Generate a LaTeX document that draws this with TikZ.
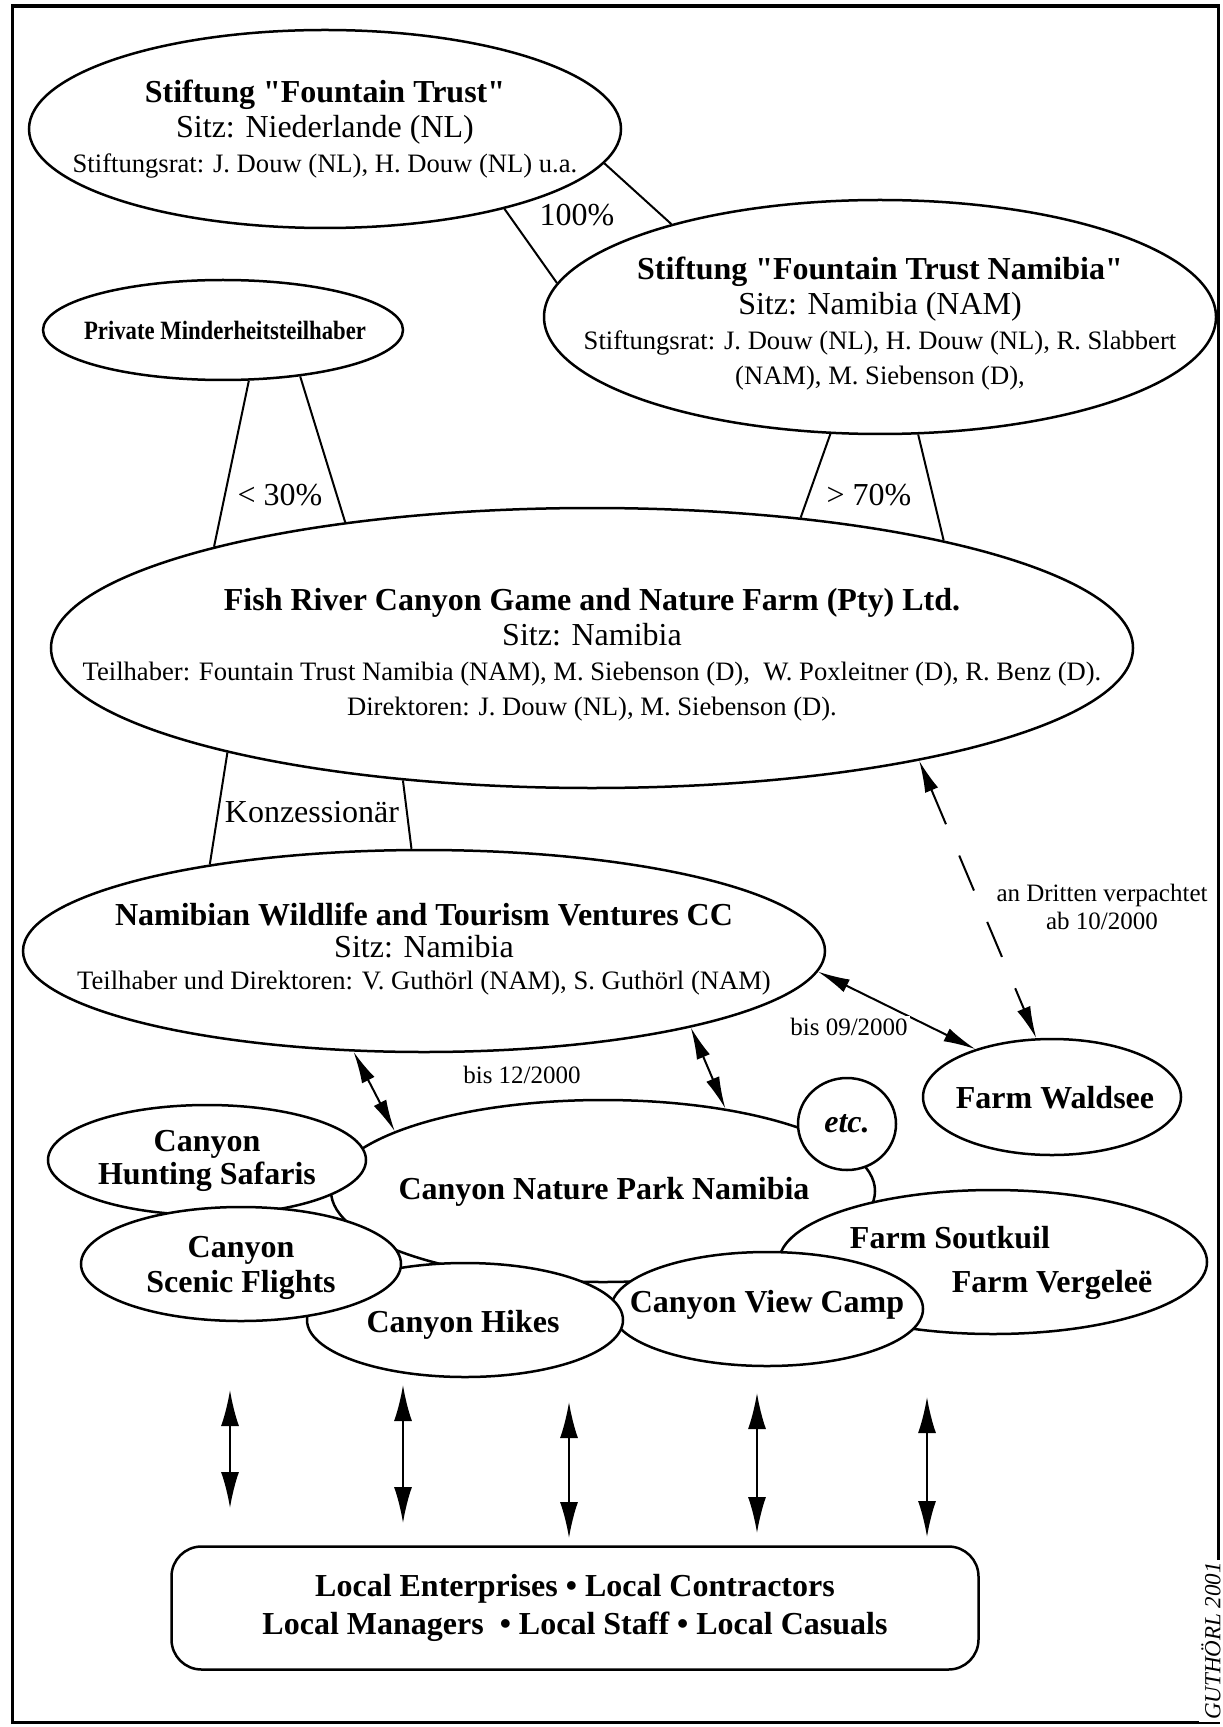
\documentclass[tikz,border=0pt]{standalone}
\usepackage{fontspec}
\setmainfont{Liberation Serif}[Ligatures=TeXOff]
\usetikzlibrary{shapes.geometric,arrows.meta}
\newcommand\ftit{\fontsize{16}{17.5}\selectfont\bfseries}
\newcommand\fsub{\fontsize{16}{17.5}\selectfont}
\newcommand\fsml{\fontsize{13.3}{17.5}\selectfont}
\newcommand\flab{\fontsize{12.5}{14}\selectfont}
\begin{document}
\begin{tikzpicture}[x=0.5pt,y=-0.5pt,
  ell/.style={draw,ellipse,line width=1.25pt,inner sep=0pt,fill=white},
  txt/.style={inner sep=0pt,align=center,font=\fsub},
  btxt/.style={inner sep=0pt,align=center,font=\ftit},
  conn/.style={line width=1pt},
  dbl/.style={line width=1pt,{Latex[length=16pt,width=7pt]}-{Latex[length=16pt,width=7pt]}},
  vdbl/.style={line width=1pt,{Latex[length=18pt,width=9pt]}-{Latex[length=18pt,width=9pt]}},
  lab/.style={inner sep=1pt,font=\flab,align=center},
  clab/.style={inner sep=1pt,font=\fsub}
]
\useasboundingbox (0,0) rectangle (1222,1727);
% frame
\draw[line width=1.5pt] (12,6) rectangle (1218,1722);
\draw[line width=2.2pt] (12,6) -- (1218,6);

% top ellipses
\node[ell,minimum width=296pt,minimum height=99pt] (A) at (325,129) {};
\node[txt] (At) at (325,129) {{\ftit Stiftung "Fountain Trust"}\\Sitz: Niederlande (NL)\\{\fsml Stiftungsrat: J. Douw (NL), H. Douw (NL) u.a.}};

\node[ell,minimum width=336pt,minimum height=117pt] (B) at (880,317) {};
\node[txt] (Bt) at (880,324) {{\ftit Stiftung "Fountain Trust Namibia"}\\Sitz: Namibia (NAM)\\{\fsml Stiftungsrat: J. Douw (NL), H. Douw (NL), R. Slabbert}\\{\fsml (NAM), M. Siebenson (D),}};

\node[ell,minimum width=180pt,minimum height=50pt] (C) at (223,330) {};
\node[btxt] (Ct) at (225,330) {\scalebox{0.86}[1]{\fontsize{13.2}{16}\selectfont\bfseries Private Minderheitsteilhaber}};

\node[ell,minimum width=541pt,minimum height=140pt] (D) at (592,648) {};
\node[txt] (Dt) at (592,655) {{\ftit Fish River Canyon Game and Nature Farm (Pty) Ltd.}\\Sitz: Namibia\\{\fsml Teilhaber: Fountain Trust Namibia (NAM), M. Siebenson (D), \ W. Poxleitner (D), R. Benz (D).}\\{\fsml Direktoren: J. Douw (NL), M. Siebenson (D).}};

\node[ell,minimum width=401pt,minimum height=101pt] (E) at (424,951) {};
\node[txt,font=\fontsize{16}{16}\selectfont] (Et) at (424,949) {{\bfseries Namibian Wildlife and Tourism Ventures CC}\\Sitz: Namibia\\{\fontsize{13.3}{16}\selectfont Teilhaber und Direktoren: V. Guthörl (NAM), S. Guthörl (NAM)}};

\node[ell,minimum width=129pt,minimum height=58pt] (W) at (1052,1097) {};
\node[btxt] (Wt) at (1055,1098) {Farm Waldsee};

% cluster
\node[ell,minimum width=272pt,minimum height=91pt] (CNP) at (603,1191) {};
\node[btxt] (CNPt) at (604,1192) {Canyon Nature Park Namibia};
\node[ell,minimum width=49pt,minimum height=46pt] (ETC) at (847,1124) {};
\node[btxt] (ETCt) at (847,1124) {\itshape etc.};
\node[ell,minimum width=214pt,minimum height=72pt] (FS) at (993,1262) {};
\node[btxt] (FSt1) at (950,1238) {Farm Soutkuil};
\node[btxt] (FSt2) at (1052,1285) {Farm Vergeleë};
\node[ell,minimum width=156pt,minimum height=57pt] (VC) at (767,1309) {};
\node[btxt] (VCt) at (767,1305) {Canyon View Camp};
\node[ell,minimum width=158pt,minimum height=57pt] (HK) at (465,1320) {};
\node[btxt] (HKt) at (463,1325) {Canyon Hikes};
\node[ell,minimum width=159pt,minimum height=55pt] (HS) at (207,1160) {};
\node[btxt,font=\fontsize{16}{16.5}\selectfont\bfseries] (HSt) at (207,1161) {Canyon\\Hunting Safaris};
\node[ell,minimum width=160pt,minimum height=57pt] (SF) at (241,1264) {};
\node[btxt,font=\fontsize{16}{17.5}\selectfont\bfseries] (SFt) at (241,1268) {Canyon\\Scenic Flights};

% ownership connectors
\draw[conn] (A.-24.3) -- (B.174.8);
\draw[conn] (A.-7.8) -- (B.156.8);
\node[clab] (l100) at (577,215) {100\%};

\draw[conn] (B.-113.7) -- (D.32.3);
\draw[conn] (B.-72) -- (D.17.5);
\node[clab] (l70) at (869,495) {> 70\%};

\draw[conn] (C.-63.2) -- (D.165.5);
\draw[conn] (C.-31.2) -- (D.153.9);
\node[clab] (l30) at (280,495) {< 30\%};

\draw[conn] (D.-164.3) -- (E.158.4);
\draw[conn] (D.-145.8) -- (E.97.9);
\node[clab] (lk) at (312,812) {Konzessionär};

% arrows
\draw[dbl] (E.-125.9) -- (CNP.164.3);
\draw[dbl] (E.-16.2) -- (CNP.34.5);
\node[lab] (l12) at (522,1075) {bis 12/2000};

\draw[dbl] (E.-3) -- (W.148.9);
\node[lab,fill=white] (l09) at (849,1027) {bis 09/2000};

\draw[dbl,dash pattern=on 19pt off 17pt] (D.-19.5) -- (W.105.7);
\node[lab] (l10) at (1102,907) {an Dritten verpachtet\\ab 10/2000};

% local box
\node[draw,rounded corners=15pt,line width=1.25pt,minimum width=403.5pt,minimum height=61.5pt,align=center,font=\fontsize{16}{19}\selectfont\bfseries] (LB) at (575,1608) {Local Enterprises • Local Contractors\\Local Managers \ • Local Staff • Local Casuals};

\coordinate (v1t) at (230,1390); \coordinate (v1b) at (230,1508);
\coordinate (v2t) at (403,1385); \coordinate (v2b) at (403,1523);
\coordinate (v3t) at (569,1402); \coordinate (v3b) at (569,1538);
\coordinate (v4t) at (757,1393); \coordinate (v4b) at (757,1533);
\coordinate (v5t) at (927,1397); \coordinate (v5b) at (927,1537);
\draw[vdbl] (v1t) -- (v1b);
\draw[vdbl] (v2t) -- (v2b);
\draw[vdbl] (v3t) -- (v3b);
\draw[vdbl] (v4t) -- (v4b);
\draw[vdbl] (v5t) -- (v5b);

\node[rotate=90,font=\fontsize{11.5}{12}\selectfont\itshape,fill=white,inner sep=1pt] (G) at (1211,1641) {GUTHÖRL 2001};
\end{tikzpicture}
\end{document}
